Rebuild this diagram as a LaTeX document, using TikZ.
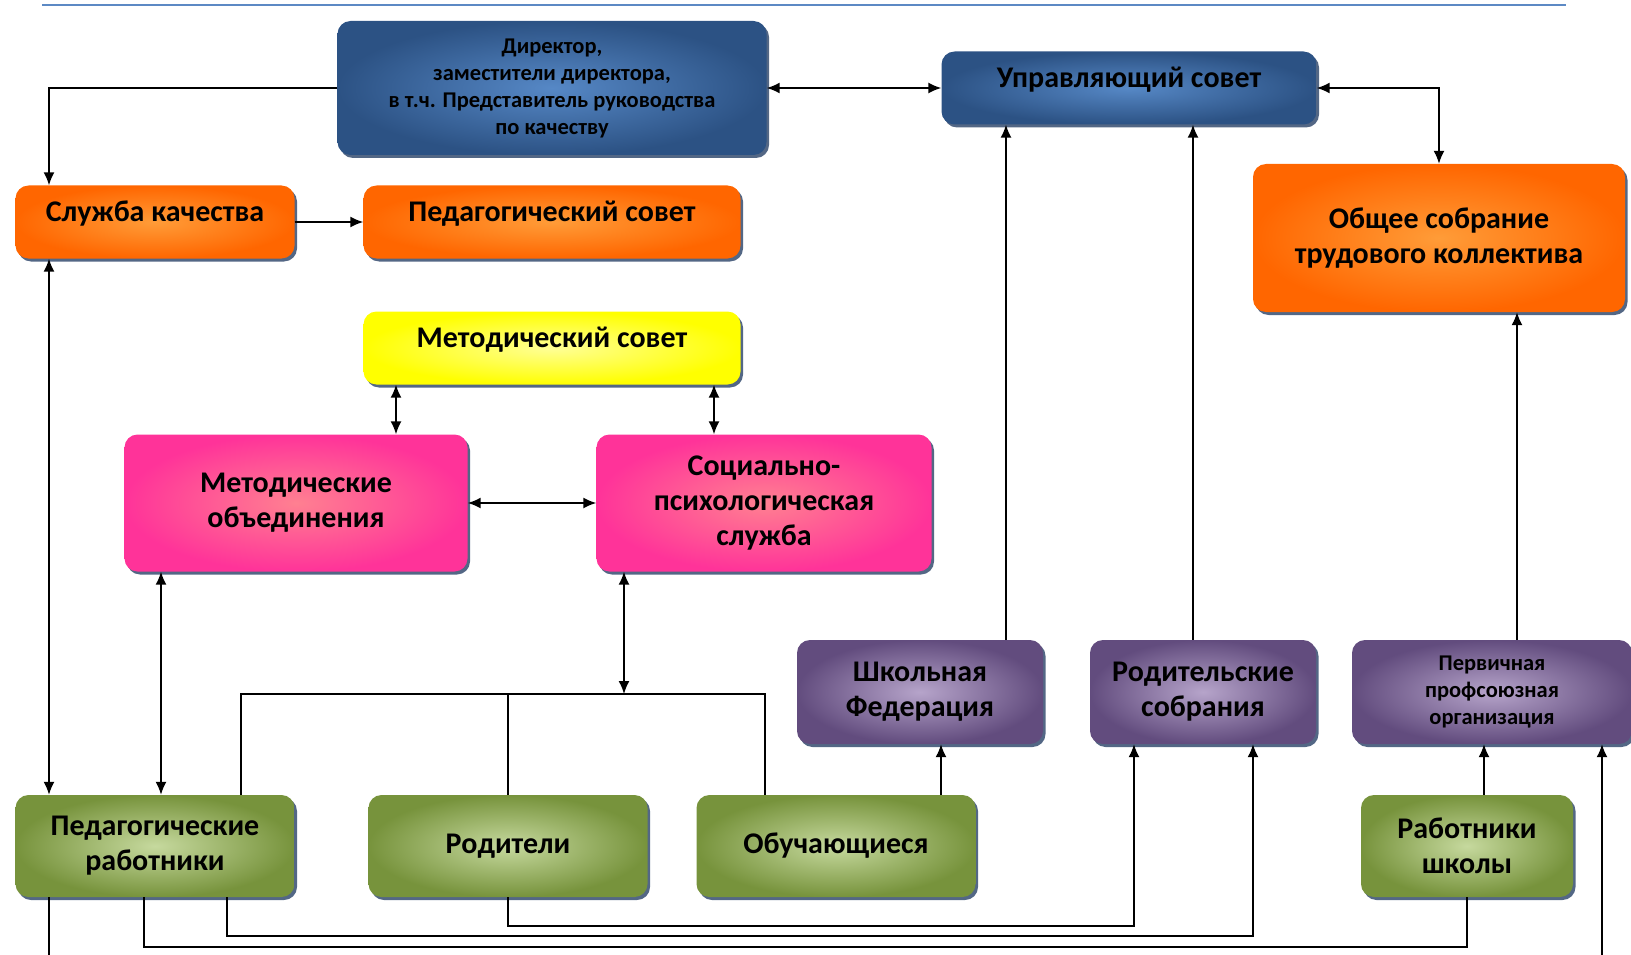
\documentclass[tikz,border=0pt]{standalone}
\usepackage{fontspec}
\setmainfont{Carlito}
\usetikzlibrary{arrows.meta,shadows,positioning}
\definecolor{dirout}{RGB}{44,82,132}
\definecolor{dirin}{RGB}{86,136,198}
\definecolor{orout}{RGB}{255,102,0}
\definecolor{orin}{RGB}{255,156,56}
\definecolor{yelout}{RGB}{255,255,0}
\definecolor{yelin}{RGB}{255,255,150}
\definecolor{pinkout}{RGB}{255,51,153}
\definecolor{pinkin}{RGB}{255,128,145}
\definecolor{violout}{RGB}{98,76,126}
\definecolor{violin}{RGB}{182,164,202}
\definecolor{grout}{RGB}{119,147,60}
\definecolor{grin}{RGB}{198,217,158}
\definecolor{shade}{RGB}{26,52,92}
\definecolor{rule}{RGB}{92,137,196}

\begin{document}
\begin{tikzpicture}[x=1pt,y=-1pt,
    box/.style={rounded corners=13pt,align=center,inner sep=2pt,
      font=\bfseries\fontsize{30}{35}\selectfont,
      drop shadow={shadow xshift=2.5pt,shadow yshift=-3pt,fill=shade,opacity=.75}},
    onerow/.style={minimum height=73pt,text depth=21pt},
    smalltext/.style={font=\bfseries\fontsize{22.5}{27}\selectfont},
    bluebox/.style={box,inner color=dirin,outer color=dirout},
    orbox/.style={box,inner color=orin,outer color=orout},
    yelbox/.style={box,inner color=yelin,outer color=yelout},
    pinkbox/.style={box,inner color=pinkin,outer color=pinkout},
    violbox/.style={box,inner color=violin,outer color=violout},
    grbox/.style={box,inner color=grin,outer color=grout},
    link/.style={line width=1.6pt},
    oneway/.style={link,-{Latex[length=13pt,width=11pt]}},
    twoway/.style={link,{Latex[length=13pt,width=11pt]}-{Latex[length=13pt,width=11pt]}}]
  \useasboundingbox (0,0) rectangle (1631,955);
  \clip (0,0) rectangle (1631,955);
  \draw[rule,line width=2.5pt] (42,5) -- (1566,5);

  % administration
  \node[bluebox,smalltext,minimum width=429pt,minimum height=134pt] (dir) at (552,88)
    {Директор,\\заместители директора,\\в т.ч. Представитель руководства\\по качеству};
  \node[bluebox,onerow,minimum width=375pt] (us) at (1129,88) {Управляющий совет};
  \node[orbox,onerow,minimum width=279pt] (sk) at (155,222) {Служба качества};
  \node[orbox,onerow,minimum width=377pt] (ps) at (552,222) {Педагогический совет};
  \node[orbox,minimum width=372pt,minimum height=148pt] (osk) at (1439,238)
    {Общее собрание\\трудового коллектива};
  \node[yelbox,onerow,minimum width=377pt] (ms) at (552,348) {Методический совет};
  \node[pinkbox,minimum width=343pt,minimum height=137pt] (mo) at (296,503)
    {Методические\\объединения};
  \node[pinkbox,minimum width=335pt,minimum height=137pt] (sps) at (764,503)
    {Социально-\\психологическая\\служба};

  % self-government
  \node[violbox,minimum width=246pt,minimum height=104pt] (sf) at (920,692)
    {Школьная\\Федерация};
  \node[violbox,minimum width=226pt,minimum height=104pt] (rs) at (1203,692)
    {Родительские\\собрания};
  \node[violbox,smalltext,minimum width=280pt,minimum height=104pt] (ppo) at (1492,692)
    {Первичная\\профсоюзная\\организация};

  % participants
  \node[grbox,minimum width=279pt,minimum height=102pt] (pr) at (155,846)
    {Педагогические\\работники};
  \node[grbox,minimum width=279pt,minimum height=102pt] (rod) at (508,846) {Родители};
  \node[grbox,minimum width=279pt,minimum height=102pt] (ob) at (836,846) {Обучающиеся};
  \node[grbox,minimum width=212pt,minimum height=102pt] (rsh) at (1467,846)
    {Работники\\школы};

  % links
  \draw[oneway] (dir.west) -| (sk.north -| 49,0);
  \draw[twoway] (dir.east) -- (us.west);
  \draw[oneway] (sk.east) -- (ps.west);
  \draw[twoway] (sk.south -| 49,0) -- (pr.north -| 49,0);
  \draw[twoway] (us.east) -| (osk.north);
  \draw[twoway] (ms.south -| 396,0) -- (mo.north -| 396,0);
  \draw[twoway] (ms.south -| 714,0) -- (sps.north -| 714,0);
  \draw[twoway] (mo.east) -- (sps.west);
  \draw[twoway] (mo.south -| 161,0) -- (pr.north -| 161,0);
  \coordinate (bus) at (624,694);
  \draw[twoway] (sps.south -| bus) -- (bus);
  \draw[link] (pr.north -| 241,0) |- (bus) -| (ob.north -| 765,0);
  \draw[link] (bus -| rod.north) -- (rod.north);
  \draw[oneway] (ob.north -| 941,0) -- (sf.south -| 941,0);
  \draw[oneway] (sf.north -| 1006,0) -- (us.south -| 1006,0);
  \draw[oneway] (rs.north -| 1193,0) -- (us.south -| 1193,0);
  \draw[oneway] (ppo.north -| 1517,0) -- (osk.south -| 1517,0);
  \draw[oneway] (rsh.north -| 1484,0) -- (ppo.south -| 1484,0);
  \draw[oneway] (rod.south) |- (1134,926) -- (rs.south -| 1134,0);
  \draw[oneway] (pr.south -| 227,0) |- (1253,936) -- (rs.south -| 1253,0);
  \draw[link] (pr.south -| 144,0) |- (rsh.south |- 0,947) -- (rsh.south);
  \draw[oneway] (pr.south -| 49,0) |- (1602,968) -- (ppo.south -| 1602,0);
\end{tikzpicture}
\end{document}
